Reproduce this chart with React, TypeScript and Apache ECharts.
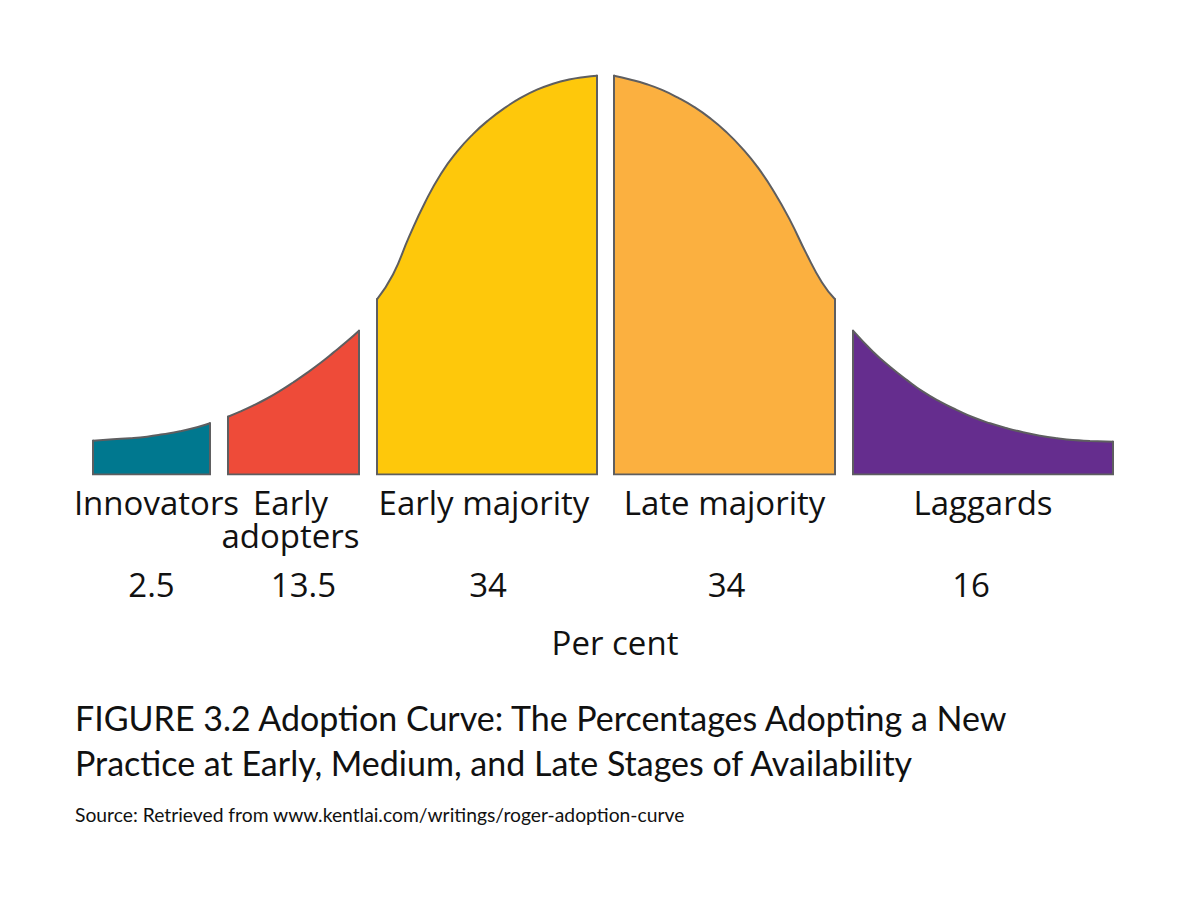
import React, { useEffect, useRef } from "react";
import * as echarts from "echarts";

// ---- Data ----
const categories = ["Innovators", "Early\nadopters", "Early majority", "Late majority", "Laggards"];
const percentages = ["2.5", "13.5", "34", "34", "16"];

const innovatorsX = [0.0, 2.0, 3.7, 5.4, 7.0, 8.7, 10.4, 11.7];
const innovatorsY = [8.45, 8.8, 9.05, 9.45, 10.05, 10.8, 11.8, 12.8];

const earlyAdoptersX = [13.5, 14.7, 16.0, 17.4, 18.7, 20.0, 21.4, 22.7, 24.0, 25.4, 26.6];
const earlyAdoptersY = [14.45, 15.7, 17.2, 19.0, 20.9, 23.0, 25.4, 27.8, 30.4, 33.3, 35.95];

const earlyMajorityX = [28.4, 30.0, 31.6, 33.2, 34.8, 36.4, 38.0, 39.6, 41.2, 42.8, 44.4, 46.0, 47.6, 49.2, 50.4];
const earlyMajorityY = [43.8, 50.0, 59.4, 68.0, 75.2, 80.7, 85.1, 88.7, 91.7, 94.2, 96.2, 97.7, 98.75, 99.4, 99.7];

const lateMajorityX = [52.1, 53.7, 55.3, 56.9, 58.5, 60.1, 61.7, 63.3, 64.9, 66.5, 68.1, 69.7, 71.3, 72.9, 74.2];
const lateMajorityY = [99.7, 98.77, 97.64, 96.15, 94.2, 91.9, 89.1, 85.7, 81.6, 76.7, 70.7, 63.6, 55.4, 48.0, 43.8];

const laggardsX = [76.0, 78.0, 79.7, 81.4, 83.0, 84.7, 86.4, 88.0, 89.7, 91.4, 93.0, 94.7, 96.4, 98.0, 99.7, 102.0];
const laggardsY = [35.95, 30.7, 26.95, 23.6, 20.7, 18.2, 16.1, 14.3, 12.8, 11.55, 10.55, 9.7, 9.05, 8.6, 8.4, 8.2];

const captionLines = [
  "FIGURE 3.2 Adoption Curve: The Percentages Adopting a New",
  "Practice at Early, Medium, and Late Stages of Availability",
];
const sourceText = "Source: Retrieved from www.kentlai.com/writings/roger-adoption-curve";
const axisTitle = "Per cent";

// ---- Styles ----
const fills = ["#00788F", "#EE4B39", "#FEC80B", "#FBB040", "#652D8E"];
const outline = "#5E5E60";
const LABEL_FONT = "'Open Sans', 'Noto Sans', sans-serif";
const CAPTION_FONT = "Lato, 'Open Sans', sans-serif";
const labelDx = [5, -3, -3, 0, 0];
const valueDx = [0, 10, 1, 2, -12];

const segX = [innovatorsX, earlyAdoptersX, earlyMajorityX, lateMajorityX, laggardsX];
const segY = [innovatorsY, earlyAdoptersY, earlyMajorityY, lateMajorityY, laggardsY];

export default function App() {
  const ref = useRef<HTMLDivElement>(null);

  useEffect(() => {
    document.body.style.margin = "0";
    if (!ref.current) return;
    const chart = echarts.init(ref.current, undefined, { renderer: "svg" });

    const series: any[] = [];
    segX.forEach((xs, i) => {
      const ys = segY[i];
      const pts = xs.map((x, k) => [x, ys[k]]);
      const n = xs.length - 1;
      series.push({
        type: "line",
        data: pts,
        smooth: 0.5,
        showSymbol: false,
        symbol: "none",
        lineStyle: { color: outline, width: 2 },
        areaStyle: { color: fills[i], opacity: 1 },
        silent: true,
        z: 2,
      });
      series.push({
        type: "line",
        data: [
          [xs[0], ys[0]],
          [xs[0], 0],
          [xs[n], 0],
          [xs[n], ys[n]],
        ],
        smooth: false,
        showSymbol: false,
        symbol: "none",
        lineStyle: { color: outline, width: 2, cap: "square", join: "miter" },
        silent: true,
        z: 3,
      });
    });

    const centers = segX.map((xs) => [(xs[0] + xs[xs.length - 1]) / 2, 0]);

    series.push({
      type: "custom",
      data: centers,
      encode: { x: 0, y: 1 },
      clip: false,
      silent: true,
      z: 5,
      renderItem: (params: any, api: any) => {
        const i = params.dataIndex;
        const p = api.coord([api.value(0), 0]);
        return {
          type: "group",
          children: [
            {
              type: "text",
              x: p[0] + labelDx[i],
              y: p[1] + 11,
              style: {
                text: categories[i],
                fill: "#111",
                fontSize: 33,
                fontFamily: LABEL_FONT,
                align: "center",
                verticalAlign: "top",
                lineHeight: 33,
              },
            },
            {
              type: "text",
              x: p[0] + valueDx[i],
              y: p[1] + 93,
              style: {
                text: percentages[i],
                fill: "#111",
                fontSize: 33,
                fontFamily: LABEL_FONT,
                align: "center",
                verticalAlign: "top",
                lineHeight: 33,
              },
            },
          ],
        };
      },
    });

    chart.setOption({
      animation: false,
      backgroundColor: "#ffffff",
      grid: { left: 93, right: 76, top: 74.5, bottom: 425.5, containLabel: false },
      xAxis: { type: "value", min: 0, max: 102, show: false },
      yAxis: { type: "value", min: 0, max: 100, show: false },
      series,
      graphic: [
        {
          type: "text",
          x: 615,
          y: 642,
          style: { text: axisTitle, fill: "#111", fontSize: 33, fontFamily: LABEL_FONT, align: "center", verticalAlign: "middle" },
        },
        {
          type: "text",
          x: 75,
          y: 717,
          style: { text: captionLines[0], fill: "#111", fontSize: 34, fontFamily: CAPTION_FONT, align: "left", verticalAlign: "middle" },
        },
        {
          type: "text",
          x: 75,
          y: 762.5,
          style: { text: captionLines[1], fill: "#111", fontSize: 34, fontFamily: CAPTION_FONT, align: "left", verticalAlign: "middle" },
        },
        {
          type: "text",
          x: 75,
          y: 814,
          style: { text: sourceText, fill: "#111", fontSize: 19.3, fontFamily: CAPTION_FONT, align: "left", verticalAlign: "middle" },
        },
      ],
    });

    return () => chart.dispose();
  }, []);

  return <div ref={ref} style={{ width: 1189, height: 900 }} />;
}
